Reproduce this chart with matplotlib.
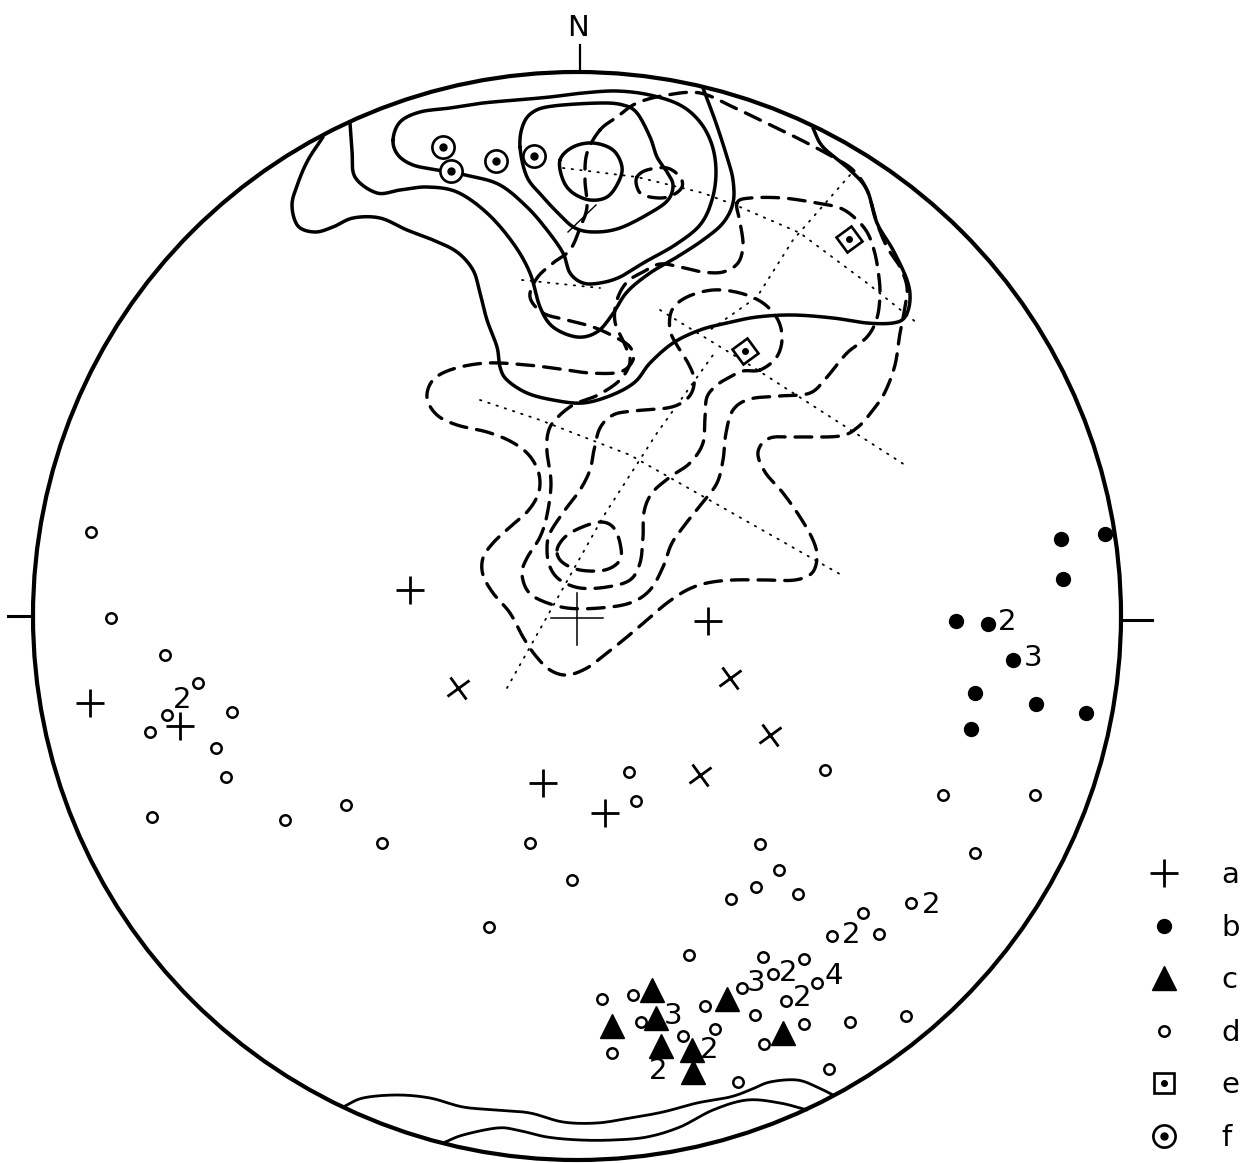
import numpy as np
import matplotlib
matplotlib.use("Agg")
import matplotlib.pyplot as plt
from matplotlib.patches import Circle
from matplotlib.lines import Line2D
from matplotlib.markers import MarkerStyle
from matplotlib.transforms import Affine2D

# --- net geometry (image pixel frame, y down) ---
W, H = 1243, 1163
NET_X, NET_Y, NET_R = 577, 616, 544

# --- point data ---
# a: crosses (upright / tilted)
a_x = [410, 90, 180, 543, 605, 708]
a_y = [590, 703, 726, 783, 813, 621]
a_tilt_x = [458, 730, 770, 700]
a_tilt_y = [688, 678, 735, 775]
# b: filled dots
b_x = [1061, 1105, 1063, 956, 988, 1013, 975, 1036, 1086, 971]
b_y = [539, 534, 579, 621, 624, 660, 693, 704, 713, 729]
# c: filled triangles
c_x = [652, 656, 612, 661, 692, 693, 727, 783]
c_y = [990, 1018, 1026, 1046, 1050, 1072, 999, 1033]
# d: open circles
d_x = [91, 111, 165, 198, 232, 167, 150, 216, 226, 152, 285, 346,
       382, 489, 530, 572, 629, 636, 825, 943, 1035, 975,
       760, 779, 756, 731, 798, 911, 863, 832, 879, 689, 763, 804,
       742, 773, 817, 786, 705, 755, 850, 906, 602, 633, 804, 641,
       715, 683, 764, 612, 829, 738]
d_y = [532, 618, 655, 683, 712, 715, 732, 748, 777, 817, 820, 805,
       843, 927, 843, 880, 772, 801, 770, 795, 795, 853,
       844, 870, 887, 899, 894, 903, 913, 936, 934, 955, 957, 959,
       988, 974, 983, 1001, 1006, 1015, 1022, 1016, 999, 995, 1024, 1022,
       1029, 1036, 1044, 1053, 1069, 1082]
# e: squares with dot, f: circles with dot
e_x = [849, 745]
e_y = [239, 351]
f_x = [443, 451, 496, 534]
f_y = [147, 171, 161, 156]

# multiplicity labels
lab_x = [182, 1007, 1033, 673, 658, 709, 931, 851, 756, 788, 834, 802]
lab_y = [700, 622, 658, 1016, 1071, 1050, 905, 935, 983, 973, 976, 998]
lab_txt = ["2", "2", "3", "3", "2", "2", "2", "2", "3", "2", "4", "2"]

legend_labels = ["a", "b", "c", "d", "e", "f"]

# --- contour data: solid set ---
sol4 = [(560, 160), (573, 147), (593, 143), (613, 150), (622, 167), (618, 183),
        (607, 197), (590, 200), (573, 193), (563, 180)]
sol3 = [(520, 147), (523, 125), (533, 112), (553, 106), (600, 103), (623, 105),
        (637, 113), (650, 137), (657, 157), (667, 172), (673, 185), (668, 200),
        (650, 213), (620, 228), (595, 232), (575, 228), (558, 213), (543, 197),
        (527, 177)]
sol2 = [(393, 140), (400, 122), (420, 112), (450, 108), (483, 103), (517, 100),
        (550, 97), (583, 93), (617, 91), (650, 95), (680, 105), (700, 122),
        (712, 145), (716, 172), (712, 200), (700, 225), (675, 245), (645, 262),
        (620, 277), (600, 283), (583, 283), (570, 273), (563, 253), (547, 230),
        (527, 207), (500, 185), (470, 176), (437, 170), (413, 165), (398, 155)]
sol1 = [(350, 123), (352, 150), (355, 177), (377, 193), (400, 190), (427, 187),
        (457, 192), (487, 213), (513, 243), (530, 273), (540, 307), (553, 327),
        (577, 337), (597, 332), (612, 315), (627, 292), (650, 273), (677, 257),
        (703, 240), (723, 223), (733, 203), (733, 180), (727, 157), (716, 123),
        (703, 88)]
sol0 = [(323, 137), (308, 160), (298, 183), (292, 205), (298, 226), (315, 232),
        (333, 227), (353, 218), (380, 218), (407, 230), (433, 240), (457, 252),
        (473, 270), (480, 293), (487, 320), (497, 347), (500, 367), (507, 380),
        (527, 393), (553, 400), (583, 403), (612, 395), (635, 382), (650, 363),
        (673, 343), (700, 330), (727, 323), (757, 317), (793, 315), (833, 318),
        (867, 323), (893, 323), (905, 317), (910, 300), (907, 280), (893, 250),
        (877, 223), (867, 190), (850, 170), (823, 147), (813, 128)]
sol_bot1 = [(343, 1107), (363, 1098), (397, 1095), (430, 1098), (463, 1107),
            (497, 1110), (530, 1113), (563, 1122), (597, 1123), (630, 1118),
            (663, 1112), (697, 1103), (730, 1097), (750, 1090), (770, 1082),
            (797, 1080), (817, 1087), (833, 1095)]
sol_bot2 = [(443, 1143), (463, 1135), (497, 1128), (517, 1130), (547, 1137),
            (580, 1140), (613, 1140), (647, 1137), (680, 1127), (713, 1110),
            (747, 1100), (780, 1103), (807, 1110)]

# --- contour data: dashed set ---
dsh1 = [(600, 130), (617, 117), (637, 103), (667, 95), (700, 93), (733, 107),
        (760, 120), (787, 133), (807, 143), (833, 157), (853, 170), (867, 190),
        (877, 223), (887, 247), (900, 267), (907, 287), (905, 307), (900, 333),
        (895, 365), (885, 392), (873, 410), (858, 427), (840, 436), (800, 437),
        (770, 438), (758, 452), (765, 472), (783, 493), (800, 517), (813, 540),
        (817, 557), (812, 573), (795, 580), (767, 580), (733, 580), (707, 583),
        (687, 590), (667, 603), (647, 620), (627, 637), (607, 653), (587, 668),
        (567, 675), (550, 670), (535, 655), (523, 637), (510, 613), (493, 593),
        (483, 575), (483, 558), (493, 543), (510, 527), (527, 512), (537, 497),
        (540, 483), (537, 468), (527, 453), (510, 441), (487, 432), (457, 425),
        (437, 415), (427, 398), (433, 380), (453, 369), (487, 363), (527, 365),
        (560, 369), (590, 373), (620, 372), (633, 360), (630, 347), (615, 337),
        (593, 327), (567, 320), (543, 313), (530, 297), (537, 278), (553, 263),
        (570, 250), (580, 228), (587, 207), (585, 180), (587, 153)]
dsh2 = [(737, 203), (750, 198), (783, 198), (817, 203), (840, 208), (855, 218),
        (867, 232), (874, 250), (878, 270), (880, 293), (877, 318), (867, 337),
        (847, 353), (827, 377), (810, 393), (780, 396), (750, 399), (733, 410),
        (726, 433), (723, 460), (717, 483), (703, 502), (687, 522), (672, 543),
        (663, 567), (650, 590), (630, 603), (600, 608), (567, 608), (540, 600),
        (527, 590), (522, 573), (527, 558), (540, 537), (547, 515), (551, 483),
        (547, 452), (548, 433), (555, 420), (573, 405), (598, 395), (620, 380),
        (630, 362), (625, 345), (615, 322), (617, 300), (627, 282), (643, 272),
        (660, 264), (680, 267), (703, 272), (723, 272), (738, 263), (743, 245),
        (740, 222)]
dsh3 = [(760, 370), (743, 371), (730, 377), (717, 385), (707, 397), (705, 417),
        (703, 443), (690, 463), (670, 477), (652, 493), (644, 512), (643, 537),
        (640, 563), (630, 580), (607, 587), (580, 588), (560, 580), (550, 567),
        (547, 550), (550, 533), (565, 510), (580, 490), (590, 470), (594, 450),
        (600, 428), (613, 415), (633, 411), (667, 408), (683, 402), (692, 392),
        (694, 378), (688, 363), (678, 347), (670, 330), (672, 310), (687, 297),
        (713, 290), (740, 293), (763, 303), (778, 320), (782, 340), (776, 358)]
dsh4 = [(557, 550), (565, 537), (580, 528), (600, 522), (613, 527), (620, 543),
        (620, 560), (605, 570), (580, 570), (562, 562)]
dsh_peak = [(637, 177), (647, 170), (667, 168), (680, 177), (682, 187),
            (673, 195), (660, 198), (643, 195), (637, 187)]

# --- dotted guide lines ---
dot_lines = [
    [(480, 400), (540, 420), (630, 455), (845, 577)],
    [(507, 688), (603, 517), (657, 433), (713, 355)],
    [(660, 310), (745, 362), (905, 465)],
    [(563, 168), (637, 177), (703, 193), (740, 207), (800, 233), (867, 283), (917, 323)],
    [(850, 175), (793, 240), (757, 297), (710, 330)],
    [(522, 280), (600, 288)],
]


def smooth(pts, closed=False, n=14):
    """Catmull-Rom curve through the traced points"""
    p = np.asarray(pts, dtype=float)
    if closed:
        p = np.vstack([p[-1], p, p[0], p[1]])
    else:
        p = np.vstack([2 * p[0] - p[1], p, 2 * p[-1] - p[-2]])
    t = np.linspace(0, 1, n, endpoint=False)[:, None]
    out = []
    for i in range(1, len(p) - 2):
        p0, p1, p2, p3 = p[i - 1], p[i], p[i + 1], p[i + 2]
        seg = 0.5 * (2 * p1 + (-p0 + p2) * t
                     + (2 * p0 - 5 * p1 + 4 * p2 - p3) * t ** 2
                     + (-p0 + 3 * p1 - 3 * p2 + p3) * t ** 3)
        out.append(seg)
    out.append(p[-2][None])
    return np.vstack(out)


fig = plt.figure(figsize=(W / 100, H / 100), dpi=100)
ax = fig.add_axes([0, 0, 1, 1])
ax.set_xlim(0, W)
ax.set_ylim(H, 0)
ax.axis("off")

# primitive circle, ticks and N
ax.add_patch(Circle((NET_X, NET_Y), NET_R, fill=False, lw=3.0, color="black"))
ax.plot([NET_X + 3, NET_X + 3], [NET_Y - NET_R - 27, NET_Y - NET_R], color="black", lw=1.6)
ax.plot([NET_X - NET_R - 25, NET_X - NET_R], [NET_Y, NET_Y], color="black", lw=2.2)
ax.plot([NET_X + NET_R, NET_X + NET_R + 31], [NET_Y + 4, NET_Y + 4], color="black", lw=2.2)
ax.text(NET_X + 1, NET_Y - NET_R - 44, "N", ha="center", va="center", fontsize=21)
# centre cross
ax.plot([NET_X - 26, NET_X + 26], [NET_Y + 2, NET_Y + 2], color="black", lw=1.1)
ax.plot([NET_X, NET_X], [NET_Y - 23, NET_Y + 29], color="black", lw=1.1)

# contours
for pts in [sol4, sol3, sol2]:
    c = smooth(pts, closed=True)
    ax.plot(c[:, 0], c[:, 1], color="black", lw=2.5, solid_capstyle="round")
for pts in [sol1, sol0]:
    c = smooth(pts)
    ax.plot(c[:, 0], c[:, 1], color="black", lw=2.5, solid_capstyle="round")
for pts in [sol_bot1, sol_bot2]:
    c = smooth(pts)
    ax.plot(c[:, 0], c[:, 1], color="black", lw=2.0, solid_capstyle="round")
for pts in [dsh1, dsh2, dsh3, dsh4, dsh_peak]:
    c = smooth(pts, closed=True)
    ax.plot(c[:, 0], c[:, 1], color="black", lw=2.4, linestyle=(0, (5, 3)),
            dash_capstyle="round")
for pts in dot_lines:
    arr = np.asarray(pts)
    ax.plot(arr[:, 0], arr[:, 1], color="black", lw=1.3, linestyle=(0, (0.8, 4)),
            dash_capstyle="round")
ax.plot([568, 596], [232, 205], color="black", lw=1.0)

# points
ax.plot(a_x, a_y, "+", color="black", ms=20, mew=2.0, zorder=5)
tilted = MarkerStyle("+", transform=Affine2D().rotate_deg(35))
ax.plot(a_tilt_x, a_tilt_y, linestyle="none", marker=tilted, color="black",
        ms=20, mew=2.0, zorder=5)
ax.plot(b_x, b_y, "o", color="black", ms=10, zorder=5)
ax.plot(c_x, c_y, "^", color="black", ms=17, zorder=5)
ax.plot(d_x, d_y, "o", mfc="white", mec="black", ms=7.5, mew=1.8, zorder=5)
diamond = MarkerStyle("s", transform=Affine2D().rotate_deg(35))
ax.plot(e_x, e_y, linestyle="none", marker=diamond, mfc="white", mec="black",
        ms=13, mew=1.9, zorder=5)
ax.plot(e_x, e_y, "o", color="black", ms=4, zorder=6)
ax.plot(f_x, f_y, "o", mfc="white", mec="black", ms=16, mew=1.9, zorder=5)
ax.plot(f_x, f_y, "o", color="black", ms=5, zorder=6)

for x, y, s in zip(lab_x, lab_y, lab_txt):
    ax.text(x, y, s, ha="center", va="center", fontsize=21, zorder=7)

# legend
handles = [
    Line2D([], [], linestyle="none", marker="+", color="black", ms=20, mew=2.0),
    Line2D([], [], linestyle="none", marker="o", color="black", ms=10),
    Line2D([], [], linestyle="none", marker="^", color="black", ms=17),
    Line2D([], [], linestyle="none", marker="o", mfc="white", mec="black", ms=7.5, mew=1.8),
    (Line2D([], [], linestyle="none", marker="s", mfc="white", mec="black", ms=14, mew=1.9),
     Line2D([], [], linestyle="none", marker="o", color="black", ms=4)),
    (Line2D([], [], linestyle="none", marker="o", mfc="white", mec="black", ms=16, mew=1.9),
     Line2D([], [], linestyle="none", marker="o", color="black", ms=5)),
]
ax.legend(handles, legend_labels, loc="lower right", bbox_to_anchor=(1.009, -0.003),
          frameon=False, fontsize=21, handlelength=1.2, handletextpad=1.35,
          labelspacing=0.84, borderpad=0)

fig.savefig("out.png", dpi=100)
